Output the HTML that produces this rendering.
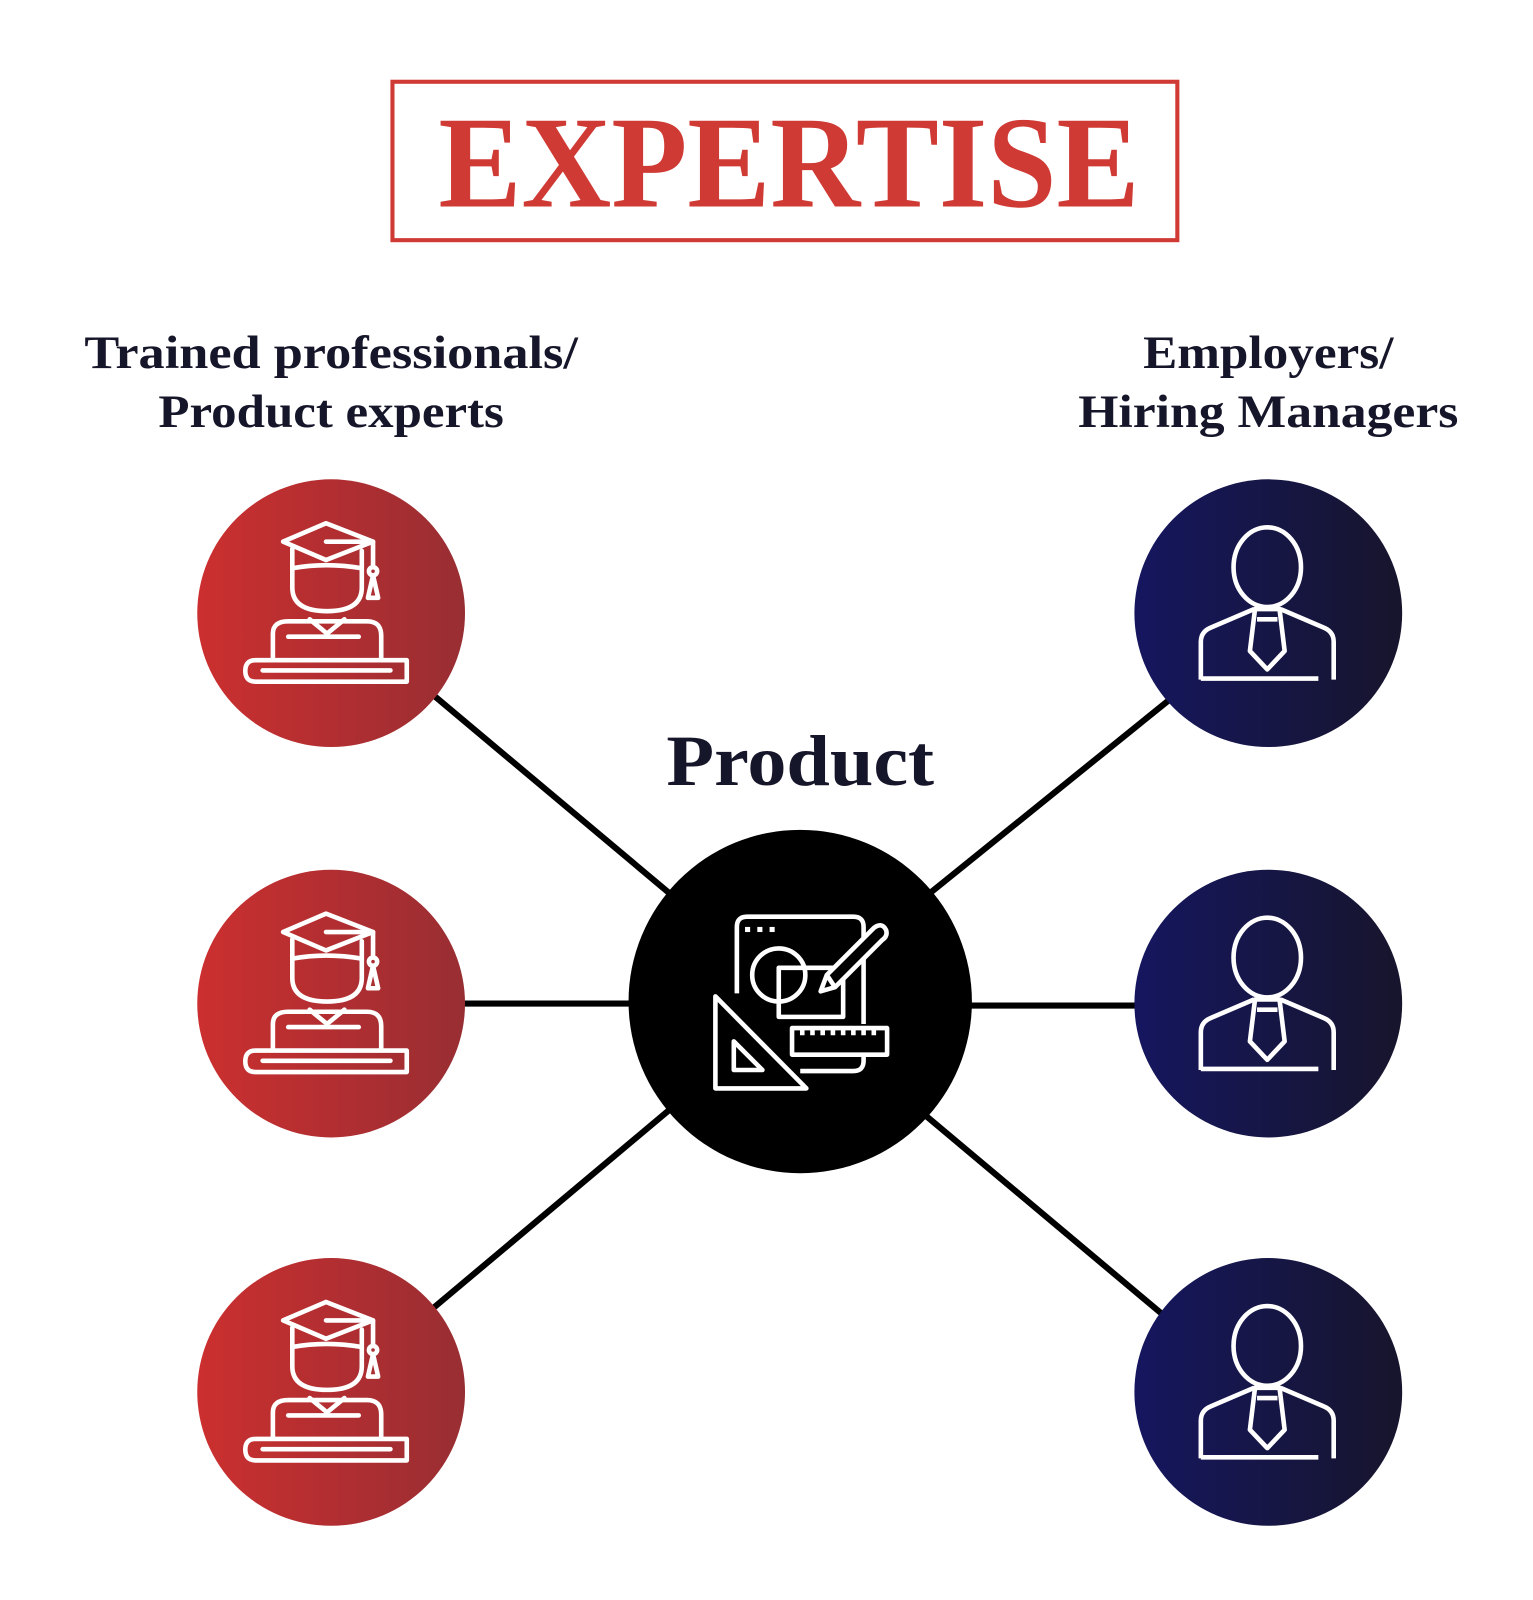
<!DOCTYPE html>
<html><head><meta charset="utf-8"><style>
html,body{margin:0;padding:0;background:#fff;}
svg{display:block;}
</style></head><body>
<svg width="1533" height="1600" viewBox="0 0 1500 1565.6" xmlns="http://www.w3.org/2000/svg">
<defs>
<linearGradient id="red" x1="0" x2="1" y1="0" y2="0"><stop offset="0" stop-color="#cc2f2f"/><stop offset="1" stop-color="#982e33"/></linearGradient>
<linearGradient id="blue" x1="0" x2="1" y1="0" y2="0"><stop offset="0" stop-color="#15165f"/><stop offset="1" stop-color="#17152c"/></linearGradient>
<g id="grad" fill="none" stroke="#fff" stroke-width="4.5" stroke-linejoin="round" stroke-linecap="round">
 <path d="M-47,-70 L-5,-88 L41,-70 L-5,-52 Z"/>
 <path d="M-38,-63 V-42 M30,-61 V-42 M-38,-44 Q-5,-50 30,-44"/>
 <path d="M-5,-70 H38 M41,-70 V-46"/>
 <circle cx="41" cy="-41" r="4"/>
 <path d="M41,-37 L36,-15 H46 Z"/>
 <path d="M-38,-42 V-25 Q-38,-2 -4,-2 Q30,-2 30,-25 V-42"/>
 <path d="M-21,6 L-4,20 L13,6"/>
 <path d="M-57,45 V20 Q-57,8 -42,8 H35 Q49,8 49,22 V45"/>
 <path d="M-42,23 H27"/>
 <path d="M-74,46 H74 V67 H-74 Q-84,67 -84,56.5 Q-84,46 -74,46 Z"/>
 <path d="M-67,56 H58"/>
</g>
<g id="person" fill="none" stroke="#fff" stroke-width="4.5" stroke-linejoin="round">
 <ellipse cx="-1" cy="-45" rx="33" ry="39"/>
 <path d="M-66,65 V28 Q-66,18 -56,14 L-14,-4 M12,-4 L54,14 Q64,18 64,28 V65"/>
 <path d="M-66,64 H49"/>
 <path d="M-13,-4 H11 L16,37 L-1,55 L-18,37 Z M-11,6 H9"/>
</g>
</defs>

<rect x="384" y="80" width="768" height="155" fill="none" stroke="#d03a34" stroke-width="4"/>
<text x="772" y="202" text-anchor="middle" font-family="Liberation Serif, serif" font-weight="bold" font-size="128" fill="#d03a34" textLength="686" lengthAdjust="spacingAndGlyphs">EXPERTISE</text>

<g font-family="Liberation Serif, serif" font-weight="bold" font-size="46" fill="#16162a" text-anchor="middle">
<text x="324" y="360" textLength="483" lengthAdjust="spacingAndGlyphs">Trained professionals/</text>
<text x="324" y="418" textLength="338" lengthAdjust="spacingAndGlyphs">Product experts</text>
<text x="1241" y="360" textLength="245" lengthAdjust="spacingAndGlyphs">Employers/</text>
<text x="1241" y="418" textLength="372" lengthAdjust="spacingAndGlyphs">Hiring Managers</text>
<text x="783" y="768" font-size="70" textLength="262" lengthAdjust="spacingAndGlyphs">Product</text>
</g>

<g stroke="#000" stroke-width="6">
<line x1="400" y1="660" x2="680" y2="895"/>
<line x1="420" y1="982" x2="650" y2="982"/>
<line x1="400" y1="1300" x2="680" y2="1065"/>
<line x1="1165" y1="668" x2="890" y2="890"/>
<line x1="920" y1="984" x2="1140" y2="984"/>
<line x1="880" y1="1070" x2="1160" y2="1305"/>
</g>

<circle cx="324" cy="600" r="131" fill="url(#red)"/>
<circle cx="324" cy="982" r="131" fill="url(#red)"/>
<circle cx="324" cy="1362" r="131" fill="url(#red)"/>
<circle cx="1241" cy="600" r="131" fill="url(#blue)"/>
<circle cx="1241" cy="982" r="131" fill="url(#blue)"/>
<circle cx="1241" cy="1362" r="131" fill="url(#blue)"/>
<circle cx="783" cy="980" r="168" fill="#000"/>

<use href="#grad" x="324" y="600"/>
<use href="#grad" x="324" y="982"/>
<use href="#grad" x="324" y="1362"/>
<use href="#person" x="1241" y="600"/>
<use href="#person" x="1241" y="982"/>
<use href="#person" x="1241" y="1362"/>

<g transform="translate(783,980)" fill="none" stroke="#fff" stroke-width="4.5" stroke-linejoin="round">
 <path d="M-62,-8 V-73 Q-62,-83 -52,-83 H52 Q62,-83 62,-73 V22 M62,52 V58 Q62,68 52,68 H0"/>
 <circle cx="-21" cy="-26" r="26"/>
 <rect x="-21" y="-33" width="63" height="48"/>
 <path d="M20,-10 L26,-26 L72,-72 Q80,-78 84,-70 Q86,-64 80,-60 L34,-14 Z M26,-26 L34,-14" fill="#000"/>
 <rect x="-8" y="26" width="93" height="26" fill="#000"/>
 <path d="M2,26 V33 M12,26 V33 M22,26 V33 M32,26 V33 M42,26 V33 M52,26 V33 M62,26 V33 M72,26 V33"/>
 <path d="M-83,-5 V85 H6 Z" fill="#000"/>
 <path d="M-65,39 V67 H-37 Z"/>
</g>
<g transform="translate(783,980)" fill="#fff">
 <rect x="-54" y="-73" width="5" height="5"/><rect x="-42" y="-73" width="5" height="5"/><rect x="-30" y="-73" width="5" height="5"/>
</g>
</svg>
</body></html>
